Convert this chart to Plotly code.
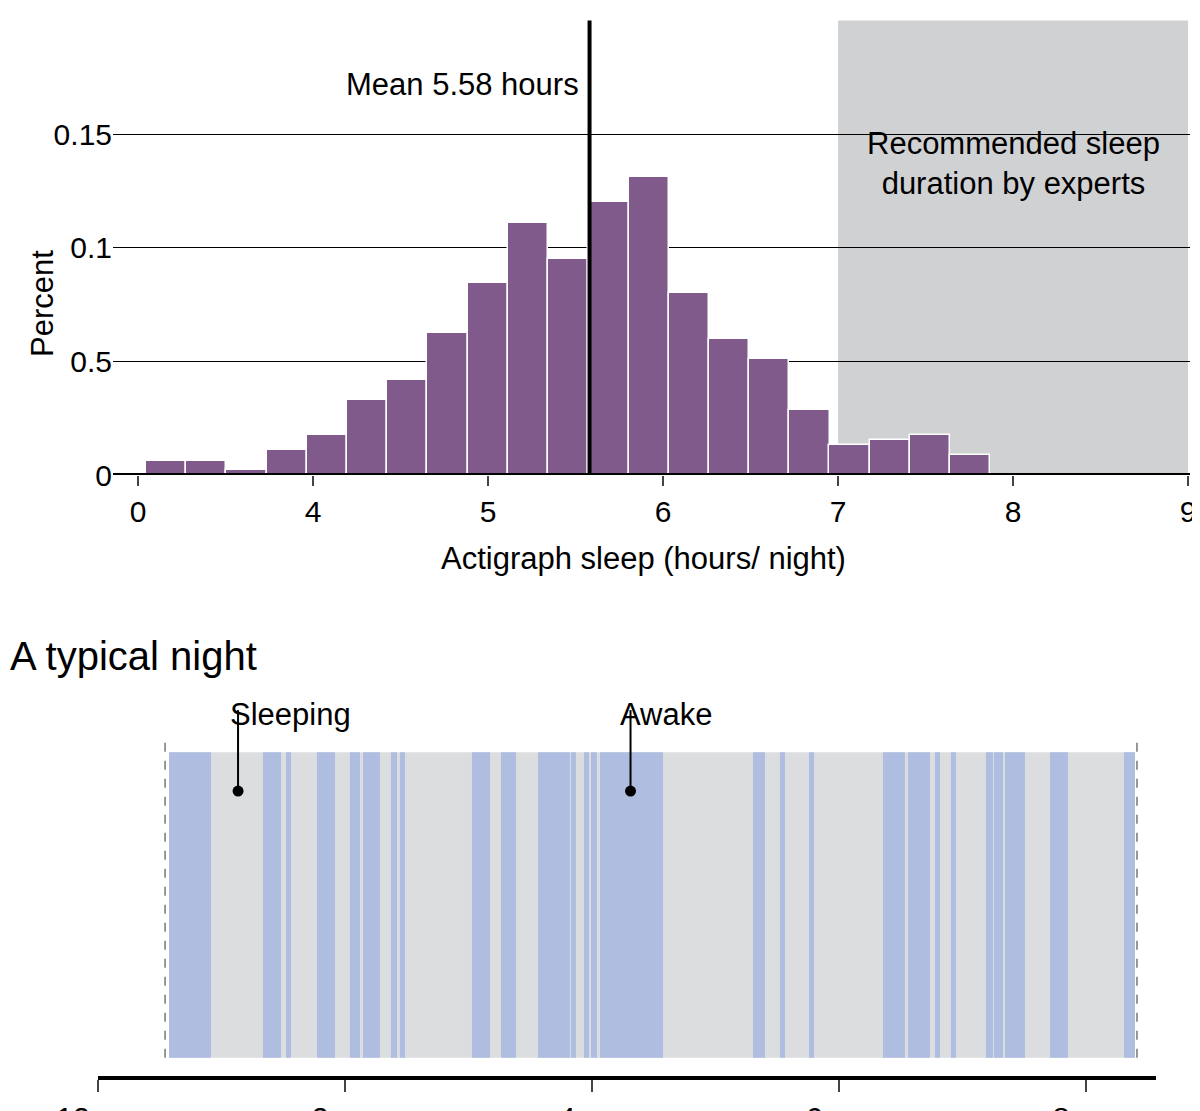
import plotly.graph_objects as go

# Top histogram (axis units: label "0" sits at 3, then 4..9 are real hours)
bin_left = [3.046, 3.275, 3.505, 3.735, 3.965, 4.194, 4.424, 4.654, 4.884, 5.113, 5.343,
            5.573, 5.803, 6.032, 6.262, 6.492, 6.722, 6.951, 7.181, 7.411, 7.641]
bin_width = 0.2297
pct = [0.006, 0.006, 0.002, 0.011, 0.0176, 0.033, 0.042, 0.0625, 0.0846, 0.111, 0.095,
       0.120, 0.131, 0.080, 0.060, 0.051, 0.0286, 0.013, 0.0154, 0.0176, 0.0088]
mean_hours = 5.58
rec_range = [7, 9]
x_tickvals = [3, 4, 5, 6, 7, 8, 9]
x_ticktext = ["0", "4", "5", "6", "7", "8", "9"]
y_tickvals = [0, 0.05, 0.1, 0.15, 0.2]
y_ticktext = ["0", "0.5", "0.1", "0.15", "0.2"]

# Bottom timeline (hours after midnight)
night_start, night_end = 0.543, 8.413
band_start, band_end = 0.575, 8.397
awake_start = [0.575, 1.336, 1.522, 1.773, 2.040, 2.146, 2.372, 2.445, 3.028, 3.263, 3.563,
               3.830, 3.935, 3.992, 4.065, 5.304, 5.522, 5.757, 6.356, 6.559, 6.777, 6.907,
               7.190, 7.255, 7.344, 7.709, 8.308]
awake_end = [0.915, 1.482, 1.563, 1.919, 2.121, 2.283, 2.421, 2.486, 3.174, 3.385, 3.822,
             3.870, 3.976, 4.040, 4.575, 5.401, 5.563, 5.798, 6.534, 6.737, 6.818, 6.947,
             7.247, 7.328, 7.506, 7.854, 8.397]
time_tickvals = [0, 2, 4, 6, 8]
time_ticktext = ["12 am", "2 am", "4 am", "6 am", "8 am"]

FONT = "Liberation Sans"
fig = go.Figure()
fig.add_trace(go.Bar(x=[l + bin_width / 2 for l in bin_left], y=pct, width=bin_width,
                     marker=dict(color="#7f5a8a", line=dict(color="white", width=1.5)),
                     xaxis="x", yaxis="y", showlegend=False, hoverinfo="skip"))

shapes = [
    dict(type="rect", xref="x", yref="y", x0=rec_range[0], x1=rec_range[1], y0=0, y1=0.2,
         fillcolor="#d0d1d3", line_width=0, layer="below"),
    dict(type="line", xref="x", yref="y", x0=mean_hours, x1=mean_hours, y0=0, y1=0.2,
         line=dict(color="black", width=4)),
    dict(type="line", xref="paper", yref="y", x0=105/1200, x1=1182/1200, y0=0, y1=0,
         line=dict(color="black", width=4)),
    dict(type="rect", xref="x2", yref="y2", x0=band_start, x1=band_end, y0=0.056, y1=1,
         fillcolor="#dcdddf", line_width=0, layer="below"),
]
for s, e in zip(awake_start, awake_end):
    shapes.append(dict(type="rect", xref="x2", yref="y2", x0=s, x1=e, y0=0.056, y1=1,
                       fillcolor="#aebde0", line_width=0, layer="below"))
for xv in [night_start, night_end]:
    shapes.append(dict(type="line", xref="x2", yref="y2", x0=xv, x1=xv, y0=0.056, y1=1.03,
                       line=dict(color="#555", width=1.2, dash="dash")))
for xv in [1.134, 4.312]:
    shapes.append(dict(type="line", xref="x2", yref="y2", x0=xv, x1=xv, y0=0.88, y1=1.13,
                       line=dict(color="black", width=2)))
fig.add_trace(go.Scatter(x=[1.134, 4.312], y=[0.88, 0.88], mode="markers",
                         marker=dict(color="black", size=11), xaxis="x2", yaxis="y2",
                         showlegend=False, hoverinfo="skip"))

anns = [
    dict(text="Mean 5.58 hours", x=mean_hours - 0.05, y=0.172, xref="x", yref="y",
         xanchor="right", showarrow=False, font=dict(size=31)),
    dict(text="Recommended sleep<br>duration by experts", x=8, y=0.137, xref="x", yref="y",
         showarrow=False, font=dict(size=31)),
    dict(text="Actigraph sleep (hours/ night)", x=635/1200, y=1-550/1111, xref="paper", yref="paper",
         showarrow=False, font=dict(size=31)),
    dict(text="Percent", x=15/1200, y=1-240/1111, xref="paper", yref="paper", textangle=-90,
         showarrow=False, font=dict(size=31)),
    dict(text="A typical night", x=0, y=1-648/1111, xref="paper", yref="paper", xanchor="left",
         showarrow=False, font=dict(size=40)),
    dict(text="Sleeping", x=220/1200, y=1-706/1111, xref="paper", yref="paper", xanchor="left",
         showarrow=False, font=dict(size=31)),
    dict(text="Awake", x=610/1200, y=1-706/1111, xref="paper", yref="paper", xanchor="left",
         showarrow=False, font=dict(size=31)),
]

fig.update_layout(
    width=1200, height=1111, margin=dict(l=0, r=0, t=0, b=0),
    plot_bgcolor="white", paper_bgcolor="white", font=dict(family=FONT, color="black", size=30),
    bargap=0, shapes=shapes, annotations=anns,
    xaxis=dict(domain=[105/1200, 1182/1200], range=[2.857, 9.011], tickvals=x_tickvals,
               ticktext=x_ticktext, ticks="outside", ticklen=10, tickwidth=2, showgrid=False,
               zeroline=False, anchor="y", tickfont=dict(size=30), automargin=False),
    yaxis=dict(domain=[1-467/1111, 1-12/1111], range=[0, 0.2002], tickvals=y_tickvals,
               ticktext=y_ticktext, showgrid=True, gridcolor="black", gridwidth=1,
               zeroline=False, ticks="", anchor="x", tickfont=dict(size=30), automargin=False),
    xaxis2=dict(domain=[90/1200, 1148/1200], range=[0, 8.567], tickvals=time_tickvals,
                ticktext=time_ticktext, ticks="outside", ticklen=12, tickwidth=2,
                showline=True, linecolor="black", linewidth=4, showgrid=False, zeroline=False,
                anchor="y2", tickfont=dict(size=30), automargin=False),
    yaxis2=dict(domain=[1-1068/1111, 1-660/1111], range=[0, 1.26], visible=False, anchor="x2",
                automargin=False),
)
fig.write_html("out.html")
